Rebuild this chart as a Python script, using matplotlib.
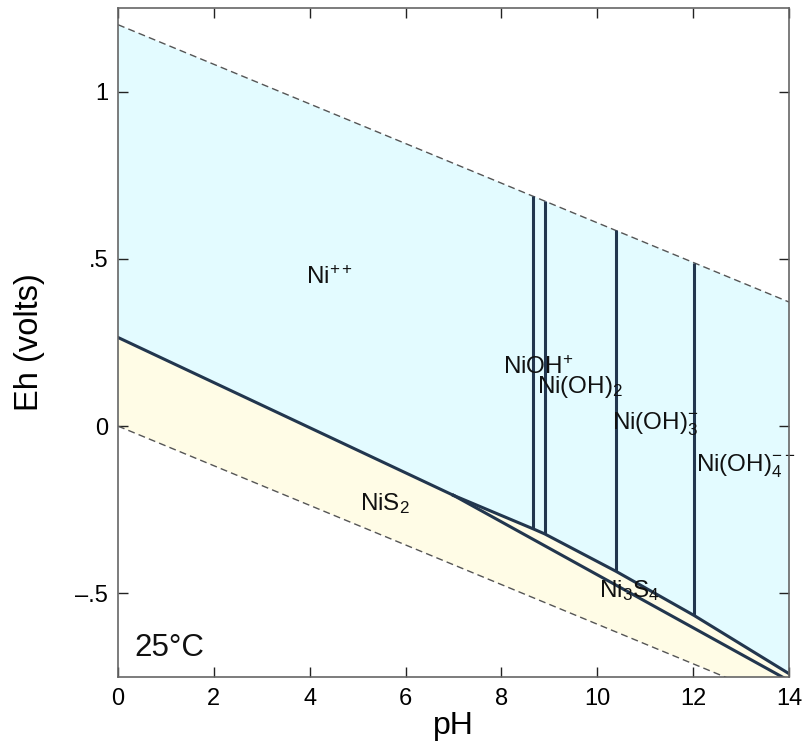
import matplotlib
matplotlib.use("Agg")
import matplotlib.pyplot as plt
from matplotlib.ticker import FixedLocator, FixedFormatter

plt.rcParams['font.family'] = ['Liberation Sans', 'DejaVu Sans']
plt.rcParams['mathtext.fontset'] = 'custom'
plt.rcParams['mathtext.rm'] = 'Liberation Sans'
plt.rcParams['mathtext.it'] = 'Liberation Sans'
plt.rcParams['mathtext.bf'] = 'Liberation Sans:bold'
plt.rcParams['mathtext.default'] = 'regular'

# ---- data ----
# water stability limits (dashed)
water_top_pH = [0.0, 14.0]
water_top_Eh = [1.20, 0.371]
water_bot_pH = [0.0, 14.0]
water_bot_Eh = [0.0, -0.829]

# Ni++ / NiS2 boundary
nis2_pH = [0.0, 7.0]
nis2_Eh = [0.265, -0.207]

# Ni3S4 / NiS2 boundary (lower line)
ni3s4_low_pH = [7.0, 14.0]
ni3s4_low_Eh = [-0.207, -0.761]

# aqueous Ni / Ni3S4 boundary (upper line)
ni3s4_up_pH = [7.0, 8.66, 8.90, 10.39, 12.02, 14.0]
ni3s4_up_Eh = [-0.207, -0.307, -0.322, -0.434, -0.566, -0.740]

# vertical boundaries between aqueous species
vert_pH = [8.66, 8.90, 10.39, 12.02]
vert_Eh_bottom = [-0.307, -0.322, -0.434, -0.566]
vert_Eh_top = [0.687, 0.673, 0.585, 0.488]

# labels
labels = ["Ni$^{++}$", "NiOH$^{+}$", "Ni(OH)$_2$", "Ni(OH)$_3^{-}$",
          "Ni(OH)$_4^{--}$", "NiS$_2$", "Ni$_3$S$_4$"]
label_pH = [3.92, 8.04, 8.74, 10.31, 12.06, 5.05, 10.03]
label_Eh = [0.426, 0.155, 0.100, -0.011, -0.137, -0.252, -0.511]

xticks = [0, 2, 4, 6, 8, 10, 12, 14]
yticks = [-0.5, 0.0, 0.5, 1.0]
ytick_labels = ["\u2013.5", "0", ".5", "1"]

line_col = "#22364e"
cyan = "#e3fbff"
yellow = "#fffce6"

fig = plt.figure(figsize=(8.04, 7.46), dpi=100)
ax = fig.add_axes([0.1468, 0.0925, 0.8345, 0.8968])
ax.set_xlim(0, 14)
ax.set_ylim(-0.75, 1.25)

# fills
cyan_x = water_top_pH + ni3s4_up_pH[::-1] + [nis2_pH[0]]
cyan_y = water_top_Eh + ni3s4_up_Eh[::-1] + [nis2_Eh[0]]
ax.fill(cyan_x, cyan_y, color=cyan, lw=0, zorder=1)

yel_x = nis2_pH + ni3s4_up_pH[1:] + [14.0, 14.0] + water_bot_pH[::-1]
yel_y = nis2_Eh + ni3s4_up_Eh[1:] + [-0.9, -0.9] + water_bot_Eh[::-1]
ax.fill(yel_x, yel_y, color=yellow, lw=0, zorder=1)

# dashed water lines
ax.plot(water_top_pH, water_top_Eh, ls=(0, (5, 3)), color="#555555", lw=1.0, zorder=2)
ax.plot(water_bot_pH, water_bot_Eh, ls=(0, (5, 3)), color="#555555", lw=1.0, zorder=2)

# boundaries
lw = 2.2
ax.plot(nis2_pH, nis2_Eh, color=line_col, lw=lw, zorder=3)
ax.plot(ni3s4_low_pH, ni3s4_low_Eh, color=line_col, lw=lw, zorder=3)
ax.plot(ni3s4_up_pH, ni3s4_up_Eh, color=line_col, lw=lw, zorder=3)
ax.vlines(vert_pH, vert_Eh_bottom, vert_Eh_top, color=line_col, lw=lw, zorder=3)

for t, x, y in zip(labels, label_pH, label_Eh):
    ax.text(x, y, t, fontsize=17.5, ha='left', va='baseline', color='#111111', zorder=4)

ax.text(0.35, -0.688, "25\u00b0C", fontsize=22.5, ha='left', va='baseline', color='#111111', zorder=4)

ax.xaxis.set_major_locator(FixedLocator(xticks))
ax.set_xticklabels([str(v) for v in xticks])
ax.yaxis.set_major_locator(FixedLocator(yticks))
ax.yaxis.set_major_formatter(FixedFormatter(ytick_labels))
ax.tick_params(direction='in', length=7, width=1, top=True, right=True,
               labelsize=17, pad=7, color='#222222')
ax.tick_params(axis='x', pad=8)
for s in ax.spines.values():
    s.set_color('#666666')
    s.set_linewidth(1.2)
    s.set_zorder(5)

ax.set_xlabel("pH", fontsize=23, labelpad=1)
ax.set_ylabel("Eh (volts)", fontsize=23.5, labelpad=22)

fig.savefig("out.png", dpi=100)
